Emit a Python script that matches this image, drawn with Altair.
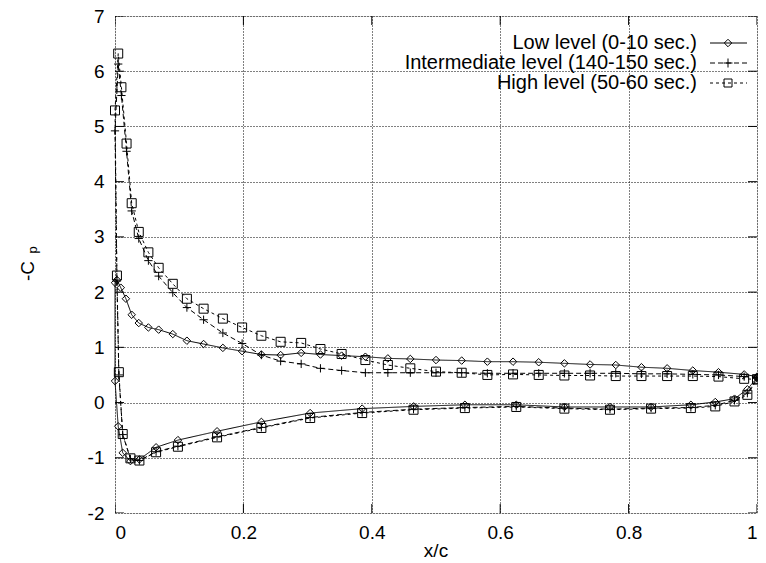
import altair as alt
import pandas as pd

# ---------------- data ----------------
series_names = ["Low level (0-10 sec.)",
                "Intermediate level (140-150 sec.)",
                "High level (50-60 sec.)"]

x_ticks = [0, 0.2, 0.4, 0.6, 0.8, 1]
y_ticks = [-2, -1, 0, 1, 2, 3, 4, 5, 6, 7]

# upper surface taps, trailing edge -> leading edge
x_upper = [1.0, 0.98, 0.94, 0.90, 0.86, 0.82, 0.78, 0.74, 0.70, 0.66, 0.62,
           0.58, 0.54, 0.50, 0.46, 0.425, 0.39, 0.353, 0.32, 0.29, 0.258,
           0.228, 0.198, 0.168, 0.138, 0.112, 0.09, 0.068, 0.052, 0.037, 0.026]
# lower surface taps, leading edge -> trailing edge
x_lower = [0.012, 0.024, 0.038, 0.064, 0.098, 0.159, 0.228, 0.304, 0.385,
           0.465, 0.545, 0.625, 0.70, 0.771, 0.835, 0.897, 0.935, 0.965,
           0.985, 1.0]

low_upper = [0.47, 0.51, 0.55, 0.58, 0.62, 0.64, 0.68, 0.69, 0.71, 0.73, 0.74,
             0.74, 0.76, 0.77, 0.79, 0.80, 0.83, 0.85, 0.87, 0.90, 0.86,
             0.87, 0.93, 0.99, 1.06, 1.12, 1.24, 1.32, 1.36, 1.44, 1.59]
low_le_x = [0.017, 0.009, 0.003, 0.0, 0.0, 0.005]
low_le_y = [1.88, 2.08, 2.22, 2.17, 0.39, -0.43]
low_lower = [-0.91, -1.06, -1.03, -0.81, -0.68, -0.52, -0.35, -0.19, -0.11,
             -0.07, -0.04, -0.04, -0.08, -0.08, -0.08, -0.04, 0.01, 0.07,
             0.24, 0.45]

int_upper = [0.45, 0.47, 0.50, 0.51, 0.52, 0.52, 0.53, 0.53, 0.53, 0.53, 0.53,
             0.53, 0.54, 0.54, 0.54, 0.54, 0.54, 0.58, 0.62, 0.70, 0.75,
             0.86, 1.07, 1.26, 1.50, 1.72, 1.99, 2.29, 2.57, 2.97, 3.47]
int_le_x = [0.018, 0.01, 0.005, 0.0, 0.003, 0.006]
int_le_y = [4.55, 5.56, 6.13, 4.92, 2.20, 0.50]
int_lower = [-0.58, -1.02, -1.05, -0.89, -0.79, -0.62, -0.45, -0.27, -0.18,
             -0.12, -0.09, -0.07, -0.10, -0.12, -0.10, -0.09, -0.05, 0.04,
             0.17, 0.44]

high_upper = [0.42, 0.43, 0.47, 0.48, 0.48, 0.48, 0.48, 0.49, 0.49, 0.50, 0.51,
              0.50, 0.54, 0.56, 0.62, 0.68, 0.77, 0.88, 0.97, 1.08, 1.10,
              1.21, 1.36, 1.52, 1.70, 1.88, 2.15, 2.44, 2.72, 3.09, 3.61]
high_le_x = [0.018, 0.01, 0.005, 0.0, 0.003, 0.006]
high_le_y = [4.69, 5.71, 6.32, 5.29, 2.30, 0.55]
high_lower = [-0.57, -1.01, -1.05, -0.90, -0.80, -0.63, -0.46, -0.28, -0.19,
              -0.13, -0.10, -0.08, -0.11, -0.13, -0.11, -0.10, -0.07, 0.02,
              0.14, 0.42]

# ---------------- table ----------------
rows = []
for name, up, lex, ley, lo in [
        (series_names[0], low_upper, low_le_x, low_le_y, low_lower),
        (series_names[1], int_upper, int_le_x, int_le_y, int_lower),
        (series_names[2], high_upper, high_le_x, high_le_y, high_lower)]:
    xs = x_upper + lex + x_lower
    ys = up + ley + lo
    for i, (xv, yv) in enumerate(zip(xs, ys)):
        rows.append({"series": name, "order": i, "x": xv, "y": yv})
df = pd.DataFrame(rows)

dashes = [[1, 0], [5, 3], [3, 3]]
plus_path = "M-1,0H1M0,-1V1"
shapes = ["diamond", plus_path, "square"]
sizes = [56, 81, 64]

FONT = "Liberation Sans"
FS = 19
LFS = 20
W, H = 642, 497

xscale = alt.Scale(domain=[0, 1], nice=False, zero=False)
yscale = alt.Scale(domain=[-2, 7], nice=False, zero=False)

common_axis = dict(tickSize=0, domain=False, grid=True, gridDash=[1, 2],
                   gridColor="black", gridOpacity=1, gridWidth=1,
                   labelFont=FONT, labelFontSize=FS, labelColor="black",
                   labelExpr="datum.value + ''", title=None)

X = alt.X("x:Q", scale=xscale,
          axis=alt.Axis(values=x_ticks, labelPadding=10, **common_axis))
Y = alt.Y("y:Q", scale=yscale,
          axis=alt.Axis(values=y_ticks, labelPadding=11, **common_axis))

sd = alt.StrokeDash("series:N", scale=alt.Scale(domain=series_names, range=dashes), legend=None)

lines = alt.Chart(df).mark_line(color="black", strokeWidth=1).encode(
    x=X, y=Y, order="order:Q", strokeDash=sd, detail="series:N")

points = alt.Chart(df).mark_point(filled=False, color="black", strokeWidth=1, opacity=1).encode(
    x=alt.X("x:Q", scale=xscale), y=alt.Y("y:Q", scale=yscale),
    shape=alt.Shape("series:N", scale=alt.Scale(domain=series_names, range=shapes), legend=None),
    size=alt.Size("series:N", scale=alt.Scale(domain=series_names, range=sizes), legend=None))

# inward ticks (mirrored on all sides)
xt = pd.DataFrame({"t": x_ticks})
yt = pd.DataFrame({"t": y_ticks})
tick_layers = []
for yd in [-2, 7]:
    tick_layers.append(alt.Chart(xt).mark_tick(orient="vertical", size=18, thickness=1,
                                               color="black", clip=True, opacity=1).encode(
        x=alt.X("t:Q", scale=xscale), y=alt.datum(yd, scale=yscale)))
for xd in [0, 1]:
    tick_layers.append(alt.Chart(yt).mark_tick(orient="horizontal", size=18, thickness=1,
                                               color="black", clip=True, opacity=1).encode(
        y=alt.Y("t:Q", scale=yscale), x=alt.datum(xd, scale=xscale)))

# legend (inside, top right, gnuplot style)
leg_layers = []
row_y = [27, 47, 67]
for i, name in enumerate(series_names):
    d = pd.DataFrame({"label": [name]})
    leg_layers.append(alt.Chart(d).mark_text(align="right", baseline="middle", font=FONT,
                                             fontSize=LFS, color="black").encode(
        x=alt.value(582), y=alt.value(row_y[i]), text="label:N"))
    leg_layers.append(alt.Chart(d).mark_rule(color="black", strokeWidth=1,
                                             strokeDash=dashes[i]).encode(
        x=alt.value(595), x2=alt.value(632), y=alt.value(row_y[i])))
    leg_layers.append(alt.Chart(d).mark_point(filled=False, color="black", strokeWidth=1,
                                              shape=shapes[i], size=sizes[i], opacity=1).encode(
        x=alt.value(613), y=alt.value(row_y[i])))

# axis titles
xtitle = alt.Chart(pd.DataFrame({"t": ["x/c"]})).mark_text(
    align="center", baseline="alphabetic", font=FONT, fontSize=FS, color="black").encode(
    x=alt.value(W / 2), y=alt.value(H + 44), text="t:N")
yt1 = alt.Chart(pd.DataFrame({"t": ["-C"]})).mark_text(
    angle=270, align="center", baseline="middle", font=FONT, fontSize=FS, color="black").encode(
    x=alt.value(-87), y=alt.value(255), text="t:N")
yt2 = alt.Chart(pd.DataFrame({"t": ["p"]})).mark_text(
    angle=270, align="center", baseline="middle", font=FONT, fontSize=13, color="black").encode(
    x=alt.value(-82), y=alt.value(234), text="t:N")

chart = alt.layer(lines, points, *tick_layers, *leg_layers, xtitle, yt1, yt2).properties(
    width=W, height=H,
    padding={"left": 107, "top": 8, "right": 1, "bottom": 47},
    autosize=alt.AutoSizeParams(type="none"),
).configure_view(stroke="black", strokeWidth=1).configure(background="white")

chart.save("out.html", embed_options={"renderer": "svg", "actions": False})
